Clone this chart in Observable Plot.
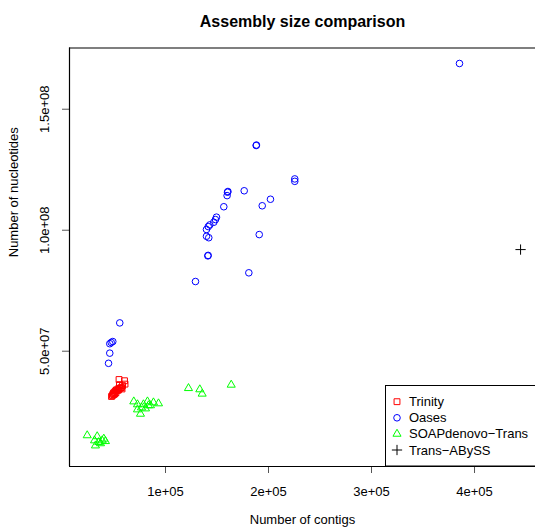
<!DOCTYPE html>
<html>
<head>
<meta charset="utf-8">
<script src="https://cdn.jsdelivr.net/npm/d3@7"></script>
<script src="https://cdn.jsdelivr.net/npm/@observablehq/plot@0.6"></script>
<style>
  html, body { margin: 0; padding: 0; background: #fff; overflow: hidden; }
  svg { font-family: "Liberation Sans", Arial, sans-serif; }
</style>
</head>
<body>
<div id="chart"></div>
<script>
// ---- data ----
const title = "Assembly size comparison";
const xLabel = "Number of contigs";
const yLabel = "Number of nucleotides";

const seriesNames = ["Trinity", "Oases", "SOAPdenovo\u2212Trans", "Trans\u2212ABySS"];
const seriesColors = ["#ff0000", "#0000ff", "#00ff00", "#000000"];
const seriesSymbols = ["square", "circle", "triangle", "plus"];

const trinityX = [47600, 48500, 49000, 49500, 50000, 50500, 51000, 51500, 51900, 52400, 53400, 53900, 54400, 55300, 56300, 57300, 57800, 55300, 54900, 60200, 60700, 58300];
const trinityY = [31.3e6, 31.7e6, 32.3e6, 32.7e6, 32.1e6, 33.1e6, 32.5e6, 33.6e6, 32.9e6, 34.0e6, 33.8e6, 34.4e6, 34.0e6, 34.6e6, 34.8e6, 35.0e6, 34.4e6, 36.2e6, 38.3e6, 37.8e6, 36.4e6, 35.8e6];

const oasesX = [385400, 188000, 188300, 225500, 225500, 160200, 160600, 159800, 176400, 201900, 193900, 156600, 149500, 148500, 146900, 143000, 141500, 139800, 139800, 142000, 191000, 141100, 141400, 180900, 129100, 55600, 48800, 47300, 45900, 45900, 44700];
const oasesY = [168.9e6, 135.0e6, 135.2e6, 121.2e6, 120.2e6, 115.7e6, 116.0e6, 114.3e6, 116.3e6, 112.8e6, 110.1e6, 109.7e6, 105.4e6, 104.4e6, 103.3e6, 102.2e6, 101.5e6, 100.3e6, 97.5e6, 96.9e6, 98.2e6, 89.4e6, 89.6e6, 82.4e6, 78.8e6, 61.7e6, 54.0e6, 53.6e6, 53.1e6, 49.2e6, 45.0e6];

const soapX = [122300, 133300, 135600, 163800, 69200, 72800, 75700, 78600, 82500, 85400, 88300, 93200, 72800, 76700, 80600, 83500, 24000, 33700, 38500, 40100, 32000, 36900, 35200, 41700, 31100];
const soapY = [34.7e6, 34.2e6, 32.4e6, 36.1e6, 29.2e6, 28.0e6, 24.1e6, 28.0e6, 29.2e6, 27.6e6, 28.8e6, 28.4e6, 25.9e6, 26.7e6, 26.3e6, 27.6e6, 15.2e6, 14.8e6, 13.1e6, 13.8e6, 11.0e6, 11.9e6, 12.4e6, 12.8e6, 13.1e6];

const abyssX = [444700];
const abyssY = [92.0e6];

const xTicks = [1e5, 2e5, 3e5, 4e5];
const xTickLabels = ["1e+05", "2e+05", "3e+05", "4e+05"];
const yTicks = [5e7, 1e8, 1.5e8];
const yTickLabels = ["5.0e+07", "1.0e+08", "1.5e+08"];

const xDomain = [6800, 459200];
const yDomain = [2.36e6, 175.3e6];

// ---- build tables ----
const toRows = (xs, ys) => xs.map((x, i) => ({x, y: ys[i]}));
const series = [
  toRows(trinityX, trinityY),
  toRows(oasesX, oasesY),
  toRows(soapX, soapY),
  toRows(abyssX, abyssY)
];
const symbolR = [3.3, 3.3, 3.0, 3.4];

const fmt = (ticks, labels) => d => labels[ticks.indexOf(d)] ?? "";

const plot = Plot.plot({
  width: 535,
  height: 531,
  marginTop: 47.5,
  marginBottom: 65,
  marginLeft: 69,
  marginRight: 0,
  style: {fontFamily: "Liberation Sans, Arial, sans-serif", fontSize: "13px", background: "white"},
  x: {domain: xDomain},
  y: {domain: yDomain},
  marks: [
    Plot.axisX({ticks: xTicks, tickFormat: fmt(xTicks, xTickLabels), tickSize: 7, tickPadding: 13, label: null, fontSize: 13, stroke: "#555", color: "#000"}),
    Plot.axisY({ticks: yTicks, tickFormat: () => "", tickSize: 7, label: null, stroke: "#555"}),
    Plot.text(yTicks, {y: d => d, text: fmt(yTicks, yTickLabels), frameAnchor: "left", dx: -25, rotate: -90, textAnchor: "middle", lineAnchor: "middle", fontSize: 13, fill: "#000"}),
    Plot.ruleX([xDomain[0]], {stroke: "#000", strokeWidth: 1.2}),
    Plot.ruleY([yDomain[0], yDomain[1]], {stroke: "#000", strokeWidth: 1.2}),
    ...series.map((rows, i) => Plot.dot(rows, {
      x: "x", y: "y", symbol: () => seriesSymbols[i], stroke: seriesColors[i],
      fill: "none", r: symbolR[i], strokeWidth: 1
    })),
    Plot.text([title], {frameAnchor: "top", dy: -32, fontWeight: "bold", fontSize: 16, fill: "#000"}),
    Plot.text([xLabel], {frameAnchor: "bottom", dy: 57, fontSize: 13, fill: "#000"}),
    Plot.text([yLabel], {frameAnchor: "left", dx: -56, rotate: -90, fontSize: 13, fill: "#000"})
  ]
});

// ---- legend (pixel-positioned box, like R's legend) ----
const svg = d3.select(plot);
const lg = svg.append("g").attr("font-family", "Liberation Sans, Arial, sans-serif").attr("font-size", 13).attr("text-anchor", "start");
lg.append("rect").attr("x", 385.5).attr("y", 385.5).attr("width", 160).attr("height", 80.5)
  .attr("fill", "white").attr("stroke", "#000").attr("stroke-width", 1);
const symMap = {square: d3.symbolSquare, circle: d3.symbolCircle, triangle: d3.symbolTriangle, plus: d3.symbolPlus};
seriesNames.forEach((name, i) => {
  const cy = 401.7 + i * 16.1;
  const r = symbolR[i];
  lg.append("path")
    .attr("transform", `translate(397,${cy})`)
    .attr("d", d3.symbol(symMap[seriesSymbols[i]], Math.PI * r * r)())
    .attr("fill", "none").attr("stroke", seriesColors[i]).attr("stroke-width", 1);
  lg.append("text").attr("x", 409).attr("y", cy).attr("dy", "0.35em").attr("text-anchor", "start").attr("fill", "#000").text(name);
});

document.getElementById("chart").appendChild(plot);
</script>
</body>
</html>
